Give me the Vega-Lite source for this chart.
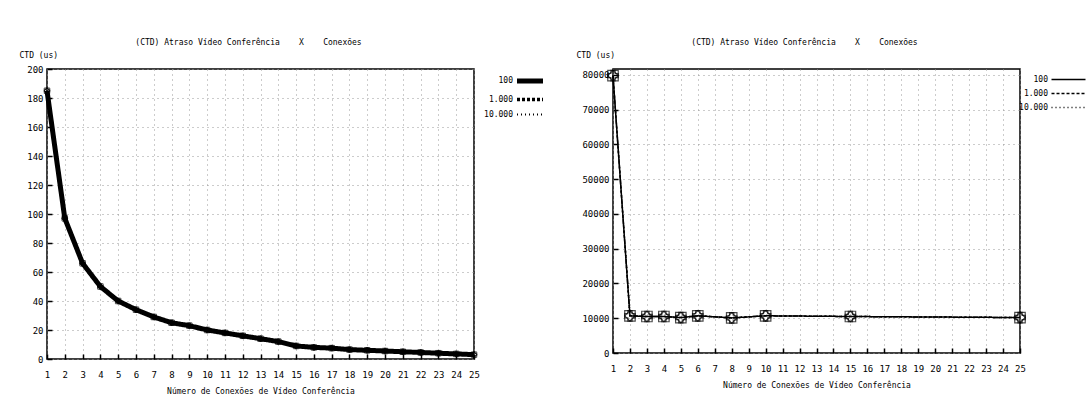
{
  "$schema": "https://vega.github.io/schema/vega-lite/v6.json",
  "background": "white",
  "padding": {"left": 18, "top": 38, "right": 5, "bottom": 5},
  "config": {
    "font": "DejaVu Sans Mono",
    "view": {"stroke": "black", "strokeWidth": 1.5},
    "axis": {
      "labelFont": "DejaVu Sans Mono", "labelFontSize": 9, "labelColor": "#000",
      "titleFont": "DejaVu Sans Mono", "titleFontSize": 8, "titleFontWeight": "normal", "titleColor": "#000",
      "domain": false, "tickColor": "#000", "tickSize": -5, "tickWidth": 1.5, "labelPadding": 16,
      "grid": true, "gridColor": "#999", "gridDash": [1, 4], "gridWidth": 1
    },
    "legend": {
      "labelFont": "DejaVu Sans Mono", "labelFontSize": 8, "labelColor": "#000",
      "symbolStrokeColor": "black", "rowPadding": 0
    },
    "title": {"font": "DejaVu Sans Mono", "fontSize": 8, "fontWeight": "normal", "color": "#000", "offset": 4, "dx": -12}
  },
  "datasets": {
    "left": [
      {"series": "100", "x": 1, "y": 185}, {"series": "100", "x": 2, "y": 97}, {"series": "100", "x": 3, "y": 66},
      {"series": "100", "x": 4, "y": 50}, {"series": "100", "x": 5, "y": 40}, {"series": "100", "x": 6, "y": 34},
      {"series": "100", "x": 7, "y": 29}, {"series": "100", "x": 8, "y": 25}, {"series": "100", "x": 9, "y": 23},
      {"series": "100", "x": 10, "y": 20}, {"series": "100", "x": 11, "y": 18}, {"series": "100", "x": 12, "y": 16},
      {"series": "100", "x": 13, "y": 14}, {"series": "100", "x": 14, "y": 12}, {"series": "100", "x": 15, "y": 9},
      {"series": "100", "x": 16, "y": 8}, {"series": "100", "x": 17, "y": 7.5}, {"series": "100", "x": 18, "y": 6.5},
      {"series": "100", "x": 19, "y": 6}, {"series": "100", "x": 20, "y": 5.5}, {"series": "100", "x": 21, "y": 5},
      {"series": "100", "x": 22, "y": 4.5}, {"series": "100", "x": 23, "y": 4}, {"series": "100", "x": 24, "y": 3.5},
      {"series": "100", "x": 25, "y": 3},
      {"series": "1.000", "x": 1, "y": 185}, {"series": "1.000", "x": 2, "y": 97}, {"series": "1.000", "x": 3, "y": 66},
      {"series": "1.000", "x": 4, "y": 50}, {"series": "1.000", "x": 5, "y": 40}, {"series": "1.000", "x": 6, "y": 34},
      {"series": "1.000", "x": 7, "y": 29}, {"series": "1.000", "x": 8, "y": 25}, {"series": "1.000", "x": 9, "y": 23},
      {"series": "1.000", "x": 10, "y": 20}, {"series": "1.000", "x": 11, "y": 18}, {"series": "1.000", "x": 12, "y": 16},
      {"series": "1.000", "x": 13, "y": 14}, {"series": "1.000", "x": 14, "y": 12}, {"series": "1.000", "x": 15, "y": 9},
      {"series": "1.000", "x": 16, "y": 8}, {"series": "1.000", "x": 17, "y": 7.5}, {"series": "1.000", "x": 18, "y": 6.5},
      {"series": "1.000", "x": 19, "y": 6}, {"series": "1.000", "x": 20, "y": 5.5}, {"series": "1.000", "x": 21, "y": 5},
      {"series": "1.000", "x": 22, "y": 4.5}, {"series": "1.000", "x": 23, "y": 4}, {"series": "1.000", "x": 24, "y": 3.5},
      {"series": "1.000", "x": 25, "y": 3},
      {"series": "10.000", "x": 1, "y": 185}, {"series": "10.000", "x": 2, "y": 97}, {"series": "10.000", "x": 3, "y": 66},
      {"series": "10.000", "x": 4, "y": 50}, {"series": "10.000", "x": 5, "y": 40}, {"series": "10.000", "x": 6, "y": 34},
      {"series": "10.000", "x": 7, "y": 29}, {"series": "10.000", "x": 8, "y": 25}, {"series": "10.000", "x": 9, "y": 23},
      {"series": "10.000", "x": 10, "y": 20}, {"series": "10.000", "x": 11, "y": 18}, {"series": "10.000", "x": 12, "y": 16},
      {"series": "10.000", "x": 13, "y": 14}, {"series": "10.000", "x": 14, "y": 12}, {"series": "10.000", "x": 15, "y": 9},
      {"series": "10.000", "x": 16, "y": 8}, {"series": "10.000", "x": 17, "y": 7.5}, {"series": "10.000", "x": 18, "y": 6.5},
      {"series": "10.000", "x": 19, "y": 6}, {"series": "10.000", "x": 20, "y": 5.5}, {"series": "10.000", "x": 21, "y": 5},
      {"series": "10.000", "x": 22, "y": 4.5}, {"series": "10.000", "x": 23, "y": 4}, {"series": "10.000", "x": 24, "y": 3.5},
      {"series": "10.000", "x": 25, "y": 3}
    ],
    "right": [
      {"series": "100", "x": 1, "y": 79800}, {"series": "100", "x": 2, "y": 10700}, {"series": "100", "x": 3, "y": 10500},
      {"series": "100", "x": 4, "y": 10500}, {"series": "100", "x": 5, "y": 10200}, {"series": "100", "x": 6, "y": 10700},
      {"series": "100", "x": 8, "y": 10100}, {"series": "100", "x": 10, "y": 10700}, {"series": "100", "x": 15, "y": 10500},
      {"series": "100", "x": 25, "y": 10200},
      {"series": "1.000", "x": 1, "y": 79800}, {"series": "1.000", "x": 2, "y": 10700}, {"series": "1.000", "x": 3, "y": 10500},
      {"series": "1.000", "x": 4, "y": 10500}, {"series": "1.000", "x": 5, "y": 10200}, {"series": "1.000", "x": 6, "y": 10700},
      {"series": "1.000", "x": 8, "y": 10100}, {"series": "1.000", "x": 10, "y": 10700}, {"series": "1.000", "x": 15, "y": 10500},
      {"series": "1.000", "x": 25, "y": 10200},
      {"series": "10.000", "x": 1, "y": 79800}, {"series": "10.000", "x": 2, "y": 10700}, {"series": "10.000", "x": 3, "y": 10500},
      {"series": "10.000", "x": 4, "y": 10500}, {"series": "10.000", "x": 5, "y": 10200}, {"series": "10.000", "x": 6, "y": 10700},
      {"series": "10.000", "x": 8, "y": 10100}, {"series": "10.000", "x": 10, "y": 10700}, {"series": "10.000", "x": 15, "y": 10500},
      {"series": "10.000", "x": 25, "y": 10200}
    ]
  },
  "spacing": 21,
  "hconcat": [
    {
      "width": 427, "height": 290,
      "title": {"text": "(CTD) Atraso Vídeo Conferência\u00a0\u00a0\u00a0\u00a0X\u00a0\u00a0\u00a0\u00a0Conexões"},
      "data": {"name": "left"},
      "encoding": {
        "x": {"field": "x", "type": "quantitative", "scale": {"domain": [1, 25], "nice": false, "zero": false},
              "axis": {"values": [1,2,3,4,5,6,7,8,9,10,11,12,13,14,15,16,17,18,19,20,21,22,23,24,25], "title": "Número de Conexões de Vídeo Conferência", "labelFlush": false, "titlePadding": 8}},
        "y": {"field": "y", "type": "quantitative", "scale": {"domain": [0, 200], "nice": false},
              "axis": {"values": [0,20,40,60,80,100,120,140,160,180,200], "labelPadding": 9, "title": "CTD (us)", "titleAngle": 0, "titleAlign": "left", "titleBaseline": "alphabetic", "titleX": -28, "titleY": -12}}
      },
      "layer": [
        {
          "mark": {"type": "line", "color": "black"},
          "encoding": {
            "strokeDash": {"field": "series", "type": "nominal", "scale": {"domain": ["100", "1.000", "10.000"], "range": [[1, 0], [3, 2], [1, 3]]},
                           "legend": {"title": null, "orient": "none", "legendX": 474, "legendY": 3, "symbolType": "M-2,0H2", "symbolSize": 169, "labelAlign": "right", "labelOffset": -26}},
            "strokeWidth": {"field": "series", "type": "nominal", "scale": {"domain": ["100", "1.000", "10.000"], "range": [5, 2, 1]},
                           "legend": {"title": null, "orient": "none", "legendX": 474, "legendY": 3, "symbolType": "M-2,0H2", "symbolSize": 169, "labelAlign": "right", "labelOffset": -26}}
          }
        },
        {
          "transform": [{"filter": "datum.series === '10.000'"}],
          "mark": {"type": "point", "shape": "square", "filled": false, "color": "black", "size": 30, "strokeWidth": 1}
        },
        {
          "transform": [{"filter": "datum.series === '1.000'"}],
          "mark": {"type": "point", "shape": "cross", "filled": false, "color": "black", "size": 30, "strokeWidth": 1}
        },
        {
          "transform": [{"filter": "datum.series === '100'"}],
          "mark": {"type": "point", "shape": "diamond", "filled": false, "color": "black", "size": 30, "strokeWidth": 1}
        }
      ]
    },
    {
      "width": 407, "height": 284,
      "title": {"text": "(CTD) Atraso Vídeo Conferência\u00a0\u00a0\u00a0\u00a0X\u00a0\u00a0\u00a0\u00a0Conexões"},
      "data": {"name": "right"},
      "encoding": {
        "x": {"field": "x", "type": "quantitative", "scale": {"domain": [1, 25], "nice": false, "zero": false},
              "axis": {"values": [1,2,3,4,5,6,7,8,9,10,11,12,13,14,15,16,17,18,19,20,21,22,23,24,25], "title": "Número de Conexões de Vídeo Conferência", "labelFlush": false, "titlePadding": 8}},
        "y": {"field": "y", "type": "quantitative", "scale": {"domain": [0, 81700], "nice": false},
              "axis": {"values": [0,10000,20000,30000,40000,50000,60000,70000,80000], "labelPadding": 9, "format": "d", "title": "CTD (us)", "titleAngle": 0, "titleAlign": "left", "titleBaseline": "alphabetic", "titleX": -37, "titleY": -12}}
      },
      "layer": [
        {
          "mark": {"type": "line", "color": "black"},
          "encoding": {
            "strokeDash": {"field": "series", "type": "nominal", "scale": {"domain": ["100", "1.000", "10.000"], "range": [[1, 0], [3, 2], [1, 3]]},
                           "legend": {"title": null, "orient": "none", "legendX": 446, "legendY": 1, "rowPadding": 0, "symbolType": "M-2,0H2", "symbolSize": 289, "labelAlign": "right", "labelOffset": -30}},
            "strokeWidth": {"field": "series", "type": "nominal", "scale": {"domain": ["100", "1.000", "10.000"], "range": [1.5, 1.5, 1]},
                           "legend": {"title": null, "orient": "none", "legendX": 446, "legendY": 1, "rowPadding": 0, "symbolType": "M-2,0H2", "symbolSize": 289, "labelAlign": "right", "labelOffset": -30}}
          }
        },
        {
          "transform": [{"filter": "datum.series === '10.000'"}],
          "mark": {"type": "point", "shape": "square", "filled": false, "color": "black", "size": 110, "strokeWidth": 1.2}
        },
        {
          "transform": [{"filter": "datum.series === '1.000'"}],
          "mark": {"type": "point", "shape": "cross", "filled": false, "color": "black", "size": 110, "strokeWidth": 1.2}
        },
        {
          "transform": [{"filter": "datum.series === '100'"}],
          "mark": {"type": "point", "shape": "diamond", "filled": false, "color": "black", "size": 110, "strokeWidth": 1.2}
        }
      ]
    }
  ],
  "resolve": {"scale": {"strokeWidth": "independent", "strokeDash": "independent"}, "legend": {"strokeWidth": "independent", "strokeDash": "independent"}}
}
